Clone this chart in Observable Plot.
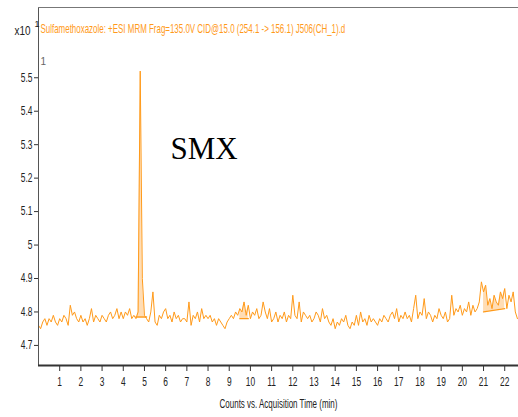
<!DOCTYPE html>
<html>
<head>
<meta charset="utf-8">
<script src="https://cdn.jsdelivr.net/npm/d3@7"></script>
<script src="https://cdn.jsdelivr.net/npm/@observablehq/plot@0.6"></script>
<style>
  html, body { margin: 0; padding: 0; background: #fff; }
  #chart svg { display: block; }
</style>
</head>
<body>
<div id="chart"></div>
<script>
// ---- data (counts x10^1) ----
const chartTitle = "Sulfamethoxazole: +ESI MRM Frag=135.0V CID@15.0 (254.1 -> 156.1) J506(CH_1).d";
const xLabel = "Counts vs. Acquisition Time (min)";
const annotation = "SMX";
const startTime = 0;      // min
const sampleStep = 0.1;   // min between samples
const counts = [
  4.76,4.75,4.77,4.78,4.76,4.78,4.77,4.79,4.77,4.76,
  4.78,4.77,4.79,4.78,4.76,4.82,4.79,4.80,4.78,4.77,
  4.79,4.77,4.78,4.76,4.78,4.81,4.77,4.79,4.78,4.77,
  4.79,4.78,4.77,4.79,4.80,4.78,4.79,4.81,4.78,4.80,
  4.78,4.80,4.79,4.81,4.78,4.79,4.78,4.80,5.52,4.90,
  4.79,4.78,4.77,4.80,4.86,4.77,4.76,4.79,4.78,4.80,
  4.81,4.78,4.79,4.77,4.80,4.78,4.79,4.77,4.78,4.78,
  4.77,4.83,4.76,4.79,4.78,4.80,4.77,4.81,4.78,4.79,
  4.78,4.79,4.77,4.78,4.76,4.78,4.77,4.76,4.75,4.77,
  4.78,4.79,4.78,4.80,4.79,4.81,4.80,4.83,4.79,4.82,
  4.78,4.80,4.79,4.81,4.78,4.79,4.83,4.80,4.78,4.81,
  4.77,4.78,4.80,4.77,4.79,4.78,4.80,4.77,4.79,4.78,
  4.85,4.79,4.78,4.83,4.77,4.80,4.79,4.78,4.79,4.77,
  4.78,4.80,4.79,4.77,4.81,4.78,4.79,4.77,4.76,4.78,
  4.75,4.77,4.76,4.78,4.77,4.79,4.76,4.75,4.77,4.76,
  4.79,4.76,4.80,4.77,4.78,4.76,4.79,4.77,4.78,4.77,
  4.76,4.78,4.77,4.79,4.78,4.77,4.79,4.80,4.78,4.81,
  4.77,4.79,4.78,4.80,4.78,4.79,4.77,4.81,4.85,4.78,
  4.80,4.79,4.84,4.78,4.80,4.79,4.77,4.79,4.78,4.81,
  4.79,4.78,4.80,4.77,4.78,4.85,4.79,4.81,4.80,4.82,
  4.79,4.81,4.80,4.83,4.79,4.82,4.80,4.81,4.83,4.89,
  4.86,4.88,4.82,4.84,4.81,4.85,4.83,4.82,4.86,4.84,
  4.87,4.81,4.85,4.83,4.86,4.80,4.78
];
// integrated peaks: start/end time and baseline level at each end
const peakStarts = [4.6, 9.5, 21.0];
const peakEnds   = [5.1, 9.9, 22.0];
const baseStart  = [4.785, 4.78, 4.80];
const baseEnd    = [4.785, 4.78, 4.81];
const xTicks = [1,2,3,4,5,6,7,8,9,10,11,12,13,14,15,16,17,18,19,20,21,22];
const yTicks = [4.7,4.8,4.9,5,5.1,5.2,5.3,5.4,5.5];

// ---- build tables ----
const trace = counts.map((v, i) => ({t: +(startTime + i * sampleStep).toFixed(2), v}));
const fills = [];
const baselines = [];
peakStarts.forEach((s, k) => {
  const e = peakEnds[k];
  const b0 = baseStart[k], b1 = baseEnd[k];
  baselines.push({t: s, v: b0, k}, {t: e, v: b1, k});
  trace.filter(d => d.t >= s - 1e-9 && d.t <= e + 1e-9).forEach(d => {
    const base = b0 + (b1 - b0) * (d.t - s) / (e - s);
    fills.push({t: d.t, lo: base, hi: d.v, k});
  });
});

const font = "'Liberation Sans', Arial, sans-serif";
const orange = "#ff9a1a";

const plot = Plot.plot({
  width: 518,
  height: 417,
  marginTop: 7,
  marginLeft: 38,
  marginRight: 0,
  marginBottom: 52,
  style: {fontFamily: font, fontSize: "12px", color: "#222", background: "#fff"},
  x: {domain: [0, 22.65]},
  y: {domain: [4.64, 5.71]},
  marks: [
    Plot.areaY(fills, {x: "t", y1: "lo", y2: "hi", z: "k", fill: "#ffd9ad", fillOpacity: 0.9, curve: "linear"}),
    Plot.line(baselines, {x: "t", y: "v", z: "k", stroke: orange, strokeWidth: 1.3}),
    Plot.line(trace, {x: "t", y: "v", stroke: orange, strokeWidth: 1}),
    Plot.axisX({ticks: xTicks, tickSize: 6, tickPadding: 6, label: null, fontSize: 12, stroke: "#333", className: "tk"}),
    Plot.axisY({ticks: yTicks, tickSize: 4, tickPadding: 2, label: null, fontSize: 12, tickFormat: d => String(d), stroke: "#333", className: "tk"}),
    Plot.ruleX([0], {stroke: "#555", strokeWidth: 1}),
    Plot.ruleY([5.71], {stroke: "#777", strokeWidth: 1}),
    Plot.ruleY([4.64], {stroke: "#333", strokeWidth: 2}),
    Plot.text([chartTitle], {frameAnchor: "top-left", dx: 2, dy: 17, textAnchor: "start", fill: orange, fontSize: 12.5, className: "ttl"}),
    Plot.text(["x10"], {frameAnchor: "top-left", dx: -24, dy: 19, textAnchor: "start", fill: "#222", fontSize: 12, className: "x10"}),
    Plot.text(["1"], {frameAnchor: "top-left", dx: -4, dy: 13, textAnchor: "start", fill: "#222", fontSize: 9}),
    Plot.text(["1"], {frameAnchor: "top-left", dx: 2, dy: 50, textAnchor: "start", fill: "#666", fontSize: 10}),
    Plot.text([annotation], {frameAnchor: "top-left", dx: 132, dy: 129, textAnchor: "start", fill: "#000", fontSize: 31, fontFamily: "'Liberation Serif', 'Times New Roman', serif"}),
    Plot.text([xLabel], {frameAnchor: "bottom", dy: 42, fill: "#222", fontSize: 12.5, className: "xlab"})
  ]
});
document.getElementById("chart").appendChild(plot);
// narrow-font look of the reference: compress texts horizontally around their anchor
const squeeze = (sel, target) => plot.querySelectorAll(sel).forEach(t => {
  const natural = t.getComputedTextLength();
  const len = typeof target === "function" ? target(natural) : target;
  const s = len / natural;
  const tr = t.getAttribute("transform");
  if (tr) {
    t.setAttribute("transform", `${tr} scale(${s.toFixed(4)},1)`);
  } else {
    const x = +(t.getAttribute("x") || 0);
    t.setAttribute("transform", `translate(${x},0) scale(${s.toFixed(4)},1) translate(${-x},0)`);
  }
});
squeeze(".ttl text", 305);
squeeze(".xlab text", 118);
squeeze(".x10 text", 16);
squeeze(".tk text", n => n * 0.7);
</script>
</body>
</html>
